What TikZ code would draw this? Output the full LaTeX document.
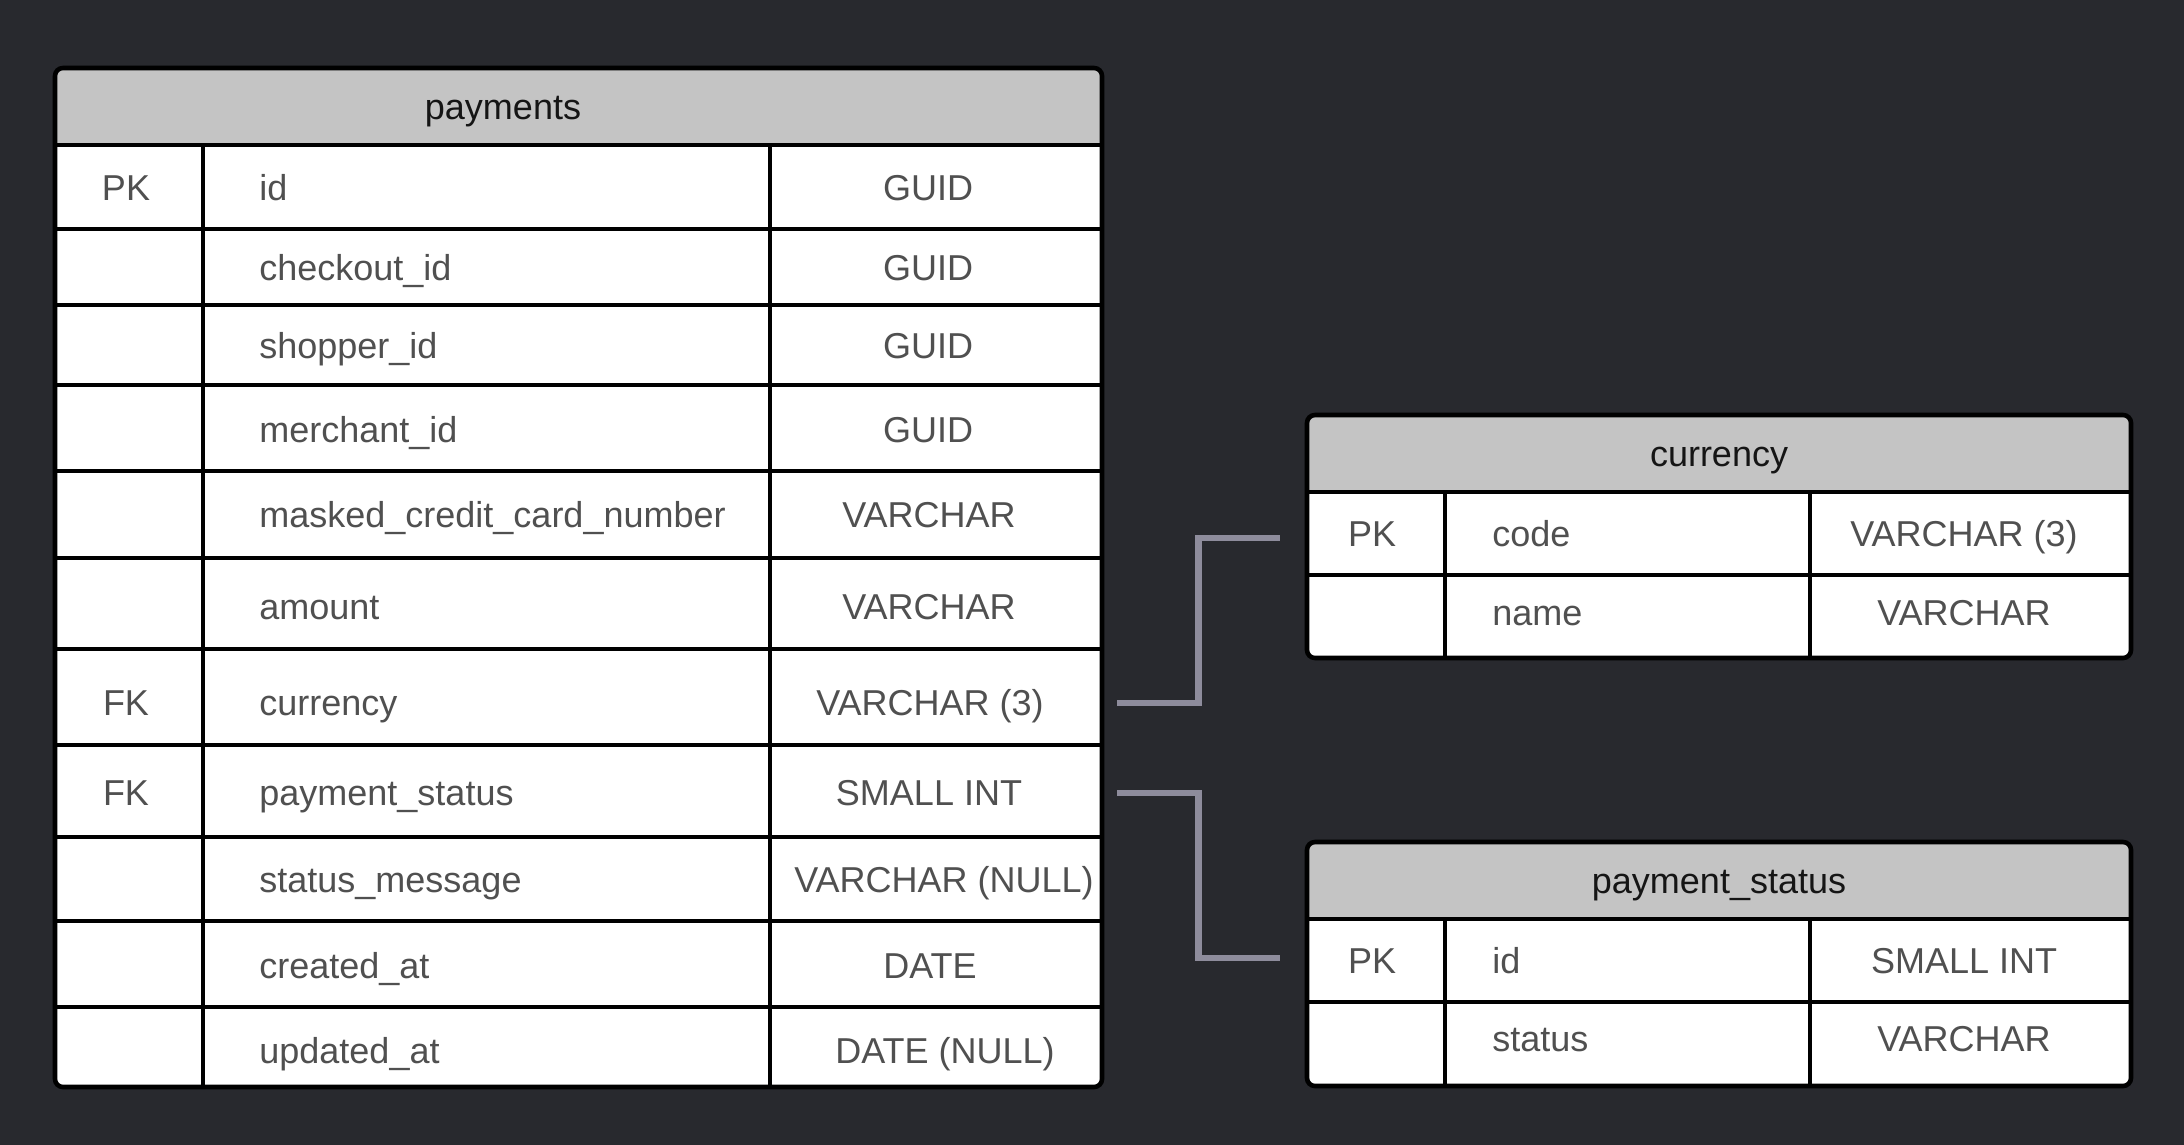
\documentclass[tikz,border=0pt]{standalone}
\usepackage{fontspec}
\setmainfont{Liberation Sans}
\usetikzlibrary{calc}
\definecolor{bg}{HTML}{28292E}
\definecolor{hdr}{HTML}{C4C4C4}
\definecolor{txt}{HTML}{505050}
\definecolor{htxt}{HTML}{151515}
\definecolor{link}{HTML}{8E8C9C}
\newcommand\cellfont{\fontsize{18}{20}\selectfont}
\begin{document}
\begin{tikzpicture}[x=0.5pt,y=-0.5pt,
  frame/.style={fill=white, draw=none, rounded corners=4pt, inner sep=0pt, outer sep=0pt},
  grid/.style={line width=2.3pt, draw=black},
  border/.style={line width=2.3pt, draw=black, rounded corners=4pt},
  hfill/.style={fill=hdr},
  keytxt/.style={anchor=base, inner sep=0pt, text=txt, font=\cellfont},
  nametxt/.style={anchor=base west, inner sep=0pt, text=txt, font=\cellfont},
  typetxt/.style={anchor=base, inner sep=0pt, text=txt, font=\cellfont},
  headtxt/.style={anchor=base, inner sep=0pt, text=htxt, font=\cellfont},
  link/.style={draw=link, line width=3.4pt, line join=miter, line cap=butt}]
\useasboundingbox[fill=bg] (0,0) rectangle (2184,1145);

% ---------------- payments ----------------
\node[frame, minimum width=523.5pt, minimum height=509.5pt] (pay) at (578.5,577.5) {};
\fill[hfill, rounded corners=4pt] (55,68) rectangle (1102,145);
\fill[hfill] (55,110) rectangle (1102,145);
\foreach \yy in {145,229,305,385,471,558,649,745,837,921,1007}
  \draw[grid] (55,\yy) -- (1102,\yy);
\draw[grid] (203,145) -- (203,1087);
\draw[grid] (770,145) -- (770,1087);
\draw[border] (pay.north west) rectangle (pay.south east);
\node[headtxt] (payh) at (503,119.5) {payments};
\foreach \i/\yy/\k/\n/\tx/\t in {
  1/200/PK/id/928/GUID,
  2/280/{}/checkout\_id/928/GUID,
  3/358/{}/shopper\_id/928/GUID,
  4/442/{}/merchant\_id/928/GUID,
  5/527.5/{}/masked\_credit\_card\_number/929/VARCHAR,
  6/619.5/{}/amount/929/VARCHAR,
  7/715.5/FK/currency/930/VARCHAR (3),
  8/805/FK/payment\_status/929/SMALL INT,
  9/892/{}/status\_message/944/VARCHAR (NULL),
  10/978/{}/created\_at/930/DATE,
  11/1063/{}/updated\_at/945/DATE (NULL)}{
  \node[keytxt] (p\i k) at (126,\yy) {\k};
  \node[nametxt] (p\i n) at (259,\yy) {\n};
  \node[typetxt] (p\i t) at (\tx,\yy) {\t};
}

% ---------------- currency ----------------
\node[frame, minimum width=412pt, minimum height=121.5pt] (cur) at (1719,536.5) {};
\fill[hfill, rounded corners=4pt] (1307,415) rectangle (2131,492);
\fill[hfill] (1307,460) rectangle (2131,492);
\draw[grid] (1307,492) -- (2131,492);
\draw[grid] (1307,575) -- (2131,575);
\draw[grid] (1445,492) -- (1445,658);
\draw[grid] (1810,492) -- (1810,658);
\draw[border] (cur.north west) rectangle (cur.south east);
\node[headtxt] (curh) at (1719,466.5) {currency};
\node[keytxt] (c1k) at (1372,546.5) {PK};
\node[nametxt] (c1n) at (1492,546.5) {code};
\node[typetxt] (c1t) at (1964,546.5) {VARCHAR (3)};
\node[nametxt] (c2n) at (1492,625.5) {name};
\node[typetxt] (c2t) at (1964,625.5) {VARCHAR};

% ---------------- payment_status ----------------
\node[frame, minimum width=412pt, minimum height=122pt] (pst) at (1719,964) {};
\fill[hfill, rounded corners=4pt] (1307,842) rectangle (2131,919);
\fill[hfill] (1307,885) rectangle (2131,919);
\draw[grid] (1307,919) -- (2131,919);
\draw[grid] (1307,1002) -- (2131,1002);
\draw[grid] (1445,919) -- (1445,1086);
\draw[grid] (1810,919) -- (1810,1086);
\draw[border] (pst.north west) rectangle (pst.south east);
\node[headtxt] (psth) at (1719,893.5) {payment\_status};
\node[keytxt] (s1k) at (1372,973.5) {PK};
\node[nametxt] (s1n) at (1492,973.5) {id};
\node[typetxt] (s1t) at (1964,973.5) {SMALL INT};
\node[nametxt] (s2n) at (1492,1051.5) {status};
\node[typetxt] (s2t) at (1964,1051.5) {VARCHAR};

% ---------------- connectors ----------------
\coordinate (fk1) at (1117,703);
\coordinate (pk1) at (1280,538);
\coordinate (fk2) at (1117,793);
\coordinate (pk2) at (1280,958);
\draw[link] (fk1) -| ($(fk1)!0.5!(pk1)$) |- (pk1);
\draw[link] (fk2) -| ($(fk2)!0.5!(pk2)$) |- (pk2);
\end{tikzpicture}
\end{document}
